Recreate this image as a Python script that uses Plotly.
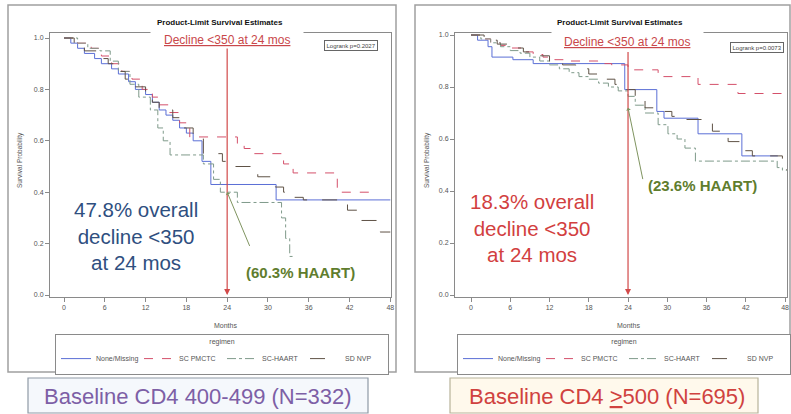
import plotly.graph_objects as go

W, H = 791, 414

# ---------------- data ----------------
regimens = ["None/Missing", "SC PMCTC", "SC-HAART", "SD NVP"]
month_ticks = [0, 6, 12, 18, 24, 30, 36, 42, 48]
surv_ticks = [0.0, 0.2, 0.4, 0.6, 0.8, 1.0]

# Baseline CD4 400-499 (left)
L_none_t = [0, 1, 2, 3, 4.5, 5.5, 7, 8, 9.5, 10.5, 12, 13, 14, 15, 16, 17, 18, 19, 20.3, 21.6, 31.2, 48]
L_none_s = [1.0, 0.98, 0.96, 0.94, 0.92, 0.90, 0.88, 0.86, 0.83, 0.80, 0.78, 0.75, 0.72, 0.70, 0.68, 0.65, 0.63, 0.60, 0.52, 0.43, 0.37, 0.37]
L_pmctc_t = [0, 2, 4, 5.5, 7, 8.5, 10, 11.5, 13, 14, 15.5, 17, 18.5, 25.5, 26.5, 27.5, 32.3, 33.7, 40.2, 45]
L_pmctc_s = [1.0, 0.98, 0.96, 0.93, 0.90, 0.87, 0.84, 0.80, 0.77, 0.74, 0.71, 0.67, 0.615, 0.59, 0.57, 0.55, 0.51, 0.475, 0.40, 0.40]
L_haart_t = [0, 2, 3.5, 5.3, 6.8, 8, 9.7, 11, 12.7, 13.8, 14.6, 15.6, 20.5, 22, 23, 25.5, 32, 32.6, 33.2, 33.8]
L_haart_s = [1.0, 0.98, 0.96, 0.95, 0.91, 0.87, 0.82, 0.77, 0.72, 0.65, 0.60, 0.545, 0.51, 0.45, 0.40, 0.36, 0.30, 0.22, 0.15, 0.15]
L_nvp_t = [0, 1.5, 3, 5, 6.5, 8, 9, 10.5, 12, 13, 14, 16, 17.5, 19, 20.5, 23.3, 24.5, 28.5, 31.1, 32.3, 33, 35.2, 41.7, 43.5, 46.5, 48]
L_nvp_s = [1.0, 0.97, 0.95, 0.92, 0.90, 0.87, 0.84, 0.81, 0.78, 0.75, 0.72, 0.69, 0.65, 0.61, 0.55, 0.52, 0.50, 0.46, 0.42, 0.40, 0.38, 0.37, 0.33, 0.29, 0.245, 0.245]

# Baseline CD4 >=500 (right)
R_none_t = [0, 1, 2.6, 3.2, 6.4, 9.5, 23.5, 28.4, 29.5, 34.7, 41.4, 46.9]
R_none_s = [1.0, 0.98, 0.955, 0.915, 0.905, 0.89, 0.79, 0.706, 0.68, 0.62, 0.535, 0.535]
R_pmctc_t = [0, 1.5, 3, 4.5, 6, 7.8, 9.5, 11, 12.8, 15, 19.4, 21.5, 24, 28.6, 34.7, 40.8, 48.3]
R_pmctc_s = [1.0, 0.985, 0.97, 0.96, 0.95, 0.935, 0.925, 0.915, 0.905, 0.90, 0.89, 0.885, 0.866, 0.84, 0.81, 0.775, 0.775]
R_haart_t = [0, 1.5, 3, 4.5, 6, 7.5, 9, 10.5, 12, 13.5, 15, 16.5, 18, 19.5, 21, 22.5, 24, 25.1, 26.6, 28.6, 30.1, 31.5, 32.7, 34.3, 46.8, 47.6, 48.3]
R_haart_s = [1.0, 0.985, 0.97, 0.955, 0.94, 0.93, 0.915, 0.90, 0.885, 0.87, 0.855, 0.84, 0.83, 0.815, 0.80, 0.785, 0.764, 0.73, 0.70, 0.655, 0.62, 0.60, 0.565, 0.515, 0.49, 0.48, 0.48]
R_nvp_t = [0, 2, 4, 6, 8, 10, 12, 14, 16, 18, 20, 22, 23.5, 25.1, 26.6, 28.6, 30.7, 32, 36.9, 39.3, 41.4, 43, 47.6, 48.3]
R_nvp_s = [1.0, 0.98, 0.965, 0.95, 0.935, 0.92, 0.90, 0.885, 0.87, 0.85, 0.83, 0.81, 0.79, 0.75, 0.72, 0.706, 0.687, 0.675, 0.63, 0.59, 0.555, 0.535, 0.50, 0.48]

left_series = [(L_none_t, L_none_s), (L_pmctc_t, L_pmctc_s), (L_haart_t, L_haart_s), (L_nvp_t, L_nvp_s)]
right_series = [(R_none_t, R_none_s), (R_pmctc_t, R_pmctc_s), (R_haart_t, R_haart_s), (R_nvp_t, R_nvp_s)]

# ---------------- style ----------------
FONT = "Liberation Sans, Arial, sans-serif"
colors = ["#5b6fd6", "#d4506a", "#7f9a8a", "#5f5246"]
dashes = ["solid", "dash", "dashdot", "longdash"]


def px(x):
    return x / W


def py(y):
    return 1 - y / H


fig = go.Figure()
for i, (t, s) in enumerate(left_series):
    fig.add_trace(go.Scatter(x=t, y=s, mode="lines", name=regimens[i], line_shape="hv",
                             line=dict(color=colors[i], dash=dashes[i], width=1),
                             xaxis="x", yaxis="y", legend="legend"))
for i, (t, s) in enumerate(right_series):
    fig.add_trace(go.Scatter(x=t, y=s, mode="lines", name=regimens[i], line_shape="hv",
                             line=dict(color=colors[i], dash=dashes[i], width=1),
                             xaxis="x2", yaxis="y2", legend="legend2"))

axis_common = dict(showgrid=False, zeroline=False, showline=True, linecolor="#8a8a8a", linewidth=1,
                   mirror=True, ticks="outside", ticklen=4, tickcolor="#8a8a8a",
                   tickfont=dict(size=7, color="#555", family=FONT))

legend_common = dict(orientation="h", xanchor="center", yanchor="top", bordercolor="#8a8a8a",
                     borderwidth=1, bgcolor="white", font=dict(size=7, color="#555", family=FONT),
                     title=dict(text="regimen", side="top center", font=dict(size=7, color="#555", family=FONT)),
                     entrywidth=38, entrywidthmode="pixels", itemwidth=30, tracegroupgap=0)

fig.update_layout(
    width=W, height=H, margin=dict(l=0, r=0, t=0, b=0, autoexpand=False),
    paper_bgcolor="white", plot_bgcolor="white",
    font=dict(family=FONT),
    xaxis=dict(domain=[px(50), px(391)], range=[-2.06, 48.1], tickvals=month_ticks, anchor="y", **axis_common),
    yaxis=dict(domain=[py(297), py(33)], range=[-0.0078, 1.0195], tickvals=surv_ticks, tickformat=".1f",
               anchor="x", **axis_common),
    xaxis2=dict(domain=[px(455), px(787)], range=[-2.45, 48.3], tickvals=month_ticks, anchor="y2", **axis_common),
    yaxis2=dict(domain=[py(297), py(33)], range=[-0.0077, 1.0077], tickvals=surv_ticks, tickformat=".1f",
                anchor="x2", **axis_common),
    legend=dict(x=px(222), y=py(334), **legend_common),
    legend2=dict(x=px(624), y=py(334), **legend_common),
)

shapes = []
# outer panel frames
shapes.append(dict(type="rect", xref="paper", yref="paper", x0=px(8), x1=px(396), y0=py(372), y1=py(5),
                   line=dict(color="#a0a0a0", width=1.5), layer="below"))
shapes.append(dict(type="rect", xref="paper", yref="paper", x0=px(415), x1=px(790), y0=py(372), y1=py(5),
                   line=dict(color="#a0a0a0", width=1.5), layer="below"))
# bottom label boxes
shapes.append(dict(type="rect", xref="paper", yref="paper", x0=px(28), x1=px(368), y0=py(413), y1=py(378),
                   line=dict(color="#8f9aa6", width=1.2), fillcolor="#f5f8fc", layer="below"))
shapes.append(dict(type="rect", xref="paper", yref="paper", x0=px(450), x1=px(758), y0=py(413), y1=py(378),
                   line=dict(color="#b8b39a", width=1.2), fillcolor="#fff9ec", layer="below"))
fig.update_layout(shapes=shapes)

ann = []


def note(text, x, y, **kw):
    d = dict(text=text, x=px(x), y=py(y), xref="paper", yref="paper", showarrow=False,
             xanchor="center", yanchor="middle")
    d.update(kw)
    ann.append(d)


panels = [
    dict(xr="x", yr="y", cx=220, dcx=227, dcy=40, gap=(152, 302), lr=(351, 45), lr_text="Logrank p=0.2027",
         arrow_top=0.965, ylab_x=20, mon_x=225,
         green=(24, 0.40, 27.4, 0.185), gtext="(60.3% HAART)", gpos=(300, 272),
         big=("47.8% overall<br>decline &lt;350<br>at 24 mos", 136, 236, "#2f4f7f"),
         bottom=("Baseline CD4 400-499 (N=332)", 198, 396, "#7d5fa6")),
    dict(xr="x2", yr="y2", cx=620, dcx=627, dcy=42, gap=(553, 702), lr=(757, 47), lr_text="Logrank p=0.0073",
         arrow_top=0.94, ylab_x=427, mon_x=628,
         green=(24, 0.72, 26.3, 0.44), gtext="(23.6% HAART)", gpos=(702, 185),
         big=("18.3% overall<br>decline &lt;350<br>at 24 mos", 532, 228, "#d23f3f"),
         bottom=("Baseline CD4 <u>&gt;</u>500 (N=695)", 607, 396, "#d0423f")),
]
for p in panels:
    note("<b>Product-Limit Survival Estimates</b>", p["cx"], 22, font=dict(size=8, color="#111", family=FONT))
    g0, g1 = p["gap"]
    note(" ", (g0 + g1) / 2, 33, bgcolor="white", width=g1 - g0, height=5, font=dict(size=4))
    note("<u>Decline &lt;350 at 24 mos</u>", p["dcx"], p["dcy"], font=dict(size=12, color="#c9474a", family=FONT))
    note(p["lr_text"], p["lr"][0], p["lr"][1], bgcolor="white", bordercolor="#666", borderwidth=1, borderpad=1.5,
         font=dict(size=6, color="#444", family=FONT))
    ann.append(dict(text="", x=24, y=0, ax=24, ay=p["arrow_top"], xref=p["xr"], yref=p["yr"],
                    axref=p["xr"], ayref=p["yr"], showarrow=True, arrowhead=2, arrowsize=1,
                    arrowwidth=1.2, arrowcolor="#d24a4a"))
    gx, gy, gax, gay = p["green"]
    ann.append(dict(text="", x=gx, y=gy, ax=gax, ay=gay, xref=p["xr"], yref=p["yr"],
                    axref=p["xr"], ayref=p["yr"], showarrow=True, arrowhead=1, arrowsize=0.8,
                    arrowwidth=1, arrowcolor="#7f9460"))
    note("<b>" + p["gtext"] + "</b>", p["gpos"][0], p["gpos"][1], font=dict(size=15, color="#5f7d2e", family=FONT))
    bt, bx, by, bc = p["big"]
    note(bt, bx, by, align="center", font=dict(size=20.5, color=bc, family=FONT))
    t, bx, by, bc = p["bottom"]
    note(t, bx, by, font=dict(size=22, color=bc, family=FONT))
    note("Survival Probability", p["ylab_x"], 160, textangle=-90, font=dict(size=6.5, color="#555", family=FONT))
    note("Months", p["mon_x"], 325, font=dict(size=7, color="#555", family=FONT))
fig.update_layout(annotations=ann)

fig.write_html("out.html")
